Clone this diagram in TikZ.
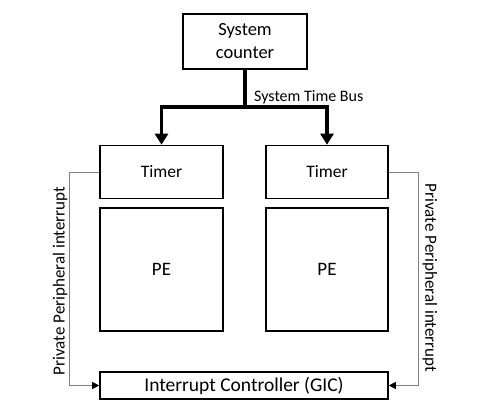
\documentclass[tikz,border=0pt]{standalone}
\usepackage{fontspec}
\setmainfont{Carlito}
\usetikzlibrary{arrows.meta}
\begin{document}
\begin{tikzpicture}[x=1pt,y=-1pt,
  box/.style={draw,line width=1.6pt,inner sep=0pt,align=center},
  bus/.style={line width=3.5pt},
  busarrow/.style={bus,-{Triangle[length=11pt,width=13pt]}},
  irq/.style={draw=gray,line width=0.8pt,-{Triangle[length=7pt,width=7pt,color=black]}},
  lbl/.style={font=\fontsize{17}{20}\selectfont,inner sep=0pt}]
\useasboundingbox (0,0) rectangle (493,420);
% System counter and bus
\node[box,minimum width=124pt,minimum height=55pt,font=\fontsize{18.5}{23}\selectfont] (sys) at (245,41.5) {System\\counter};
\coordinate (bus) at (245,107);
% Timers
\node[box,minimum width=123pt,minimum height=53pt,font=\fontsize{17.5}{20}\selectfont] (timerL) at (161.5,172) {Timer};
\node[box,minimum width=122pt,minimum height=53pt,font=\fontsize{17.5}{20}\selectfont] (timerR) at (327,172) {Timer};
% Processing elements
\node[box,minimum width=123pt,minimum height=123pt,font=\fontsize{19}{22}\selectfont] (peL) at (161.5,269.5) {PE};
\node[box,minimum width=122pt,minimum height=123pt,font=\fontsize{19}{22}\selectfont] (peR) at (327,269.5) {PE};
% Interrupt controller
\node[box,minimum width=288pt,minimum height=27pt,font=\fontsize{19.5}{22}\selectfont] (gic) at (244,385.5) {Interrupt Controller (GIC)};
% Bus lines
\draw[bus] (sys.south) -- (bus);
\draw[busarrow] (bus) -| (timerL.north);
\draw[busarrow] (bus) -| (timerR.north);
\node[font=\fontsize{16}{19}\selectfont,anchor=west,inner sep=0pt] (buslabel) at (254,97) {System Time Bus};
% Interrupt lines
\draw[irq] (timerL.west) -- ++(-30,0) |- (gic.west);
\draw[irq] (timerR.east) -- ++(30,0) |- (gic.east);
\node[lbl,rotate=90] (irqL) at (60,281) {Private Peripheral interrupt};
\node[lbl,rotate=-90] (irqR) at (430,278) {Private Peripheral interrupt};
\end{tikzpicture}
\end{document}
